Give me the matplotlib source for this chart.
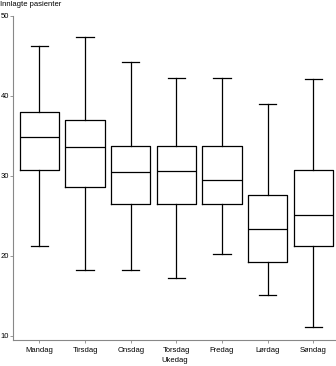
import matplotlib.pyplot as plt

plt.rcParams['font.family'] = ['Liberation Sans', 'DejaVu Sans']

# Daily admissions by weekday: whisker/quartile/median summary
days = ['Mandag', 'Tirsdag', 'Onsdag', 'Torsdag', 'Fredag', 'Lørdag', 'Søndag']
whislo = [21.2, 18.3, 18.2, 17.2, 20.3, 15.1, 11.1]
q1 = [30.7, 28.6, 26.5, 26.5, 26.5, 19.3, 21.3]
med = [34.9, 33.6, 30.5, 30.6, 29.5, 23.4, 25.1]
q3 = [38.0, 37.0, 33.8, 33.8, 33.8, 27.6, 30.7]
whishi = [46.3, 47.4, 44.2, 42.2, 42.2, 39.0, 42.1]
yticks = [10, 20, 30, 40, 50]

stats = []
for i, d in enumerate(days):
    stats.append({'label': d, 'whislo': whislo[i], 'q1': q1[i], 'med': med[i],
                  'q3': q3[i], 'whishi': whishi[i], 'fliers': []})

fig = plt.figure(figsize=(3.36, 3.66), dpi=100)
ax = fig.add_axes([13 / 336, 26 / 366, 323 / 336, 324 / 366])

lw = 0.9
line = dict(color='black', linewidth=lw)
ax.bxp(stats, positions=range(1, 8), widths=0.86, capwidths=0.38,
       boxprops=line, whiskerprops=line, capprops=line,
       medianprops=line, showfliers=False)

ax.set_xlim(0.42, 7.5)
ax.set_ylim(9.5, 50)
ax.set_yticks(yticks)
ax.set_xticks(range(1, 8))
ax.set_xticklabels(days)

for s in ['top', 'right']:
    ax.spines[s].set_visible(False)
for s in ['left', 'bottom']:
    ax.spines[s].set_color('#888888')
    ax.spines[s].set_linewidth(0.8)

ax.tick_params(labelsize=5.5, length=2, width=0.6, color='#888888', pad=1)
ax.tick_params(axis='x', pad=3)
ax.set_xlabel('Ukedag', fontsize=5.5, labelpad=2.5)
fig.text(0.0, 1 - 5 / 366, 'Innlagte pasienter', fontsize=5.5, va='center', ha='left')

fig.savefig('out.png', dpi=100)
